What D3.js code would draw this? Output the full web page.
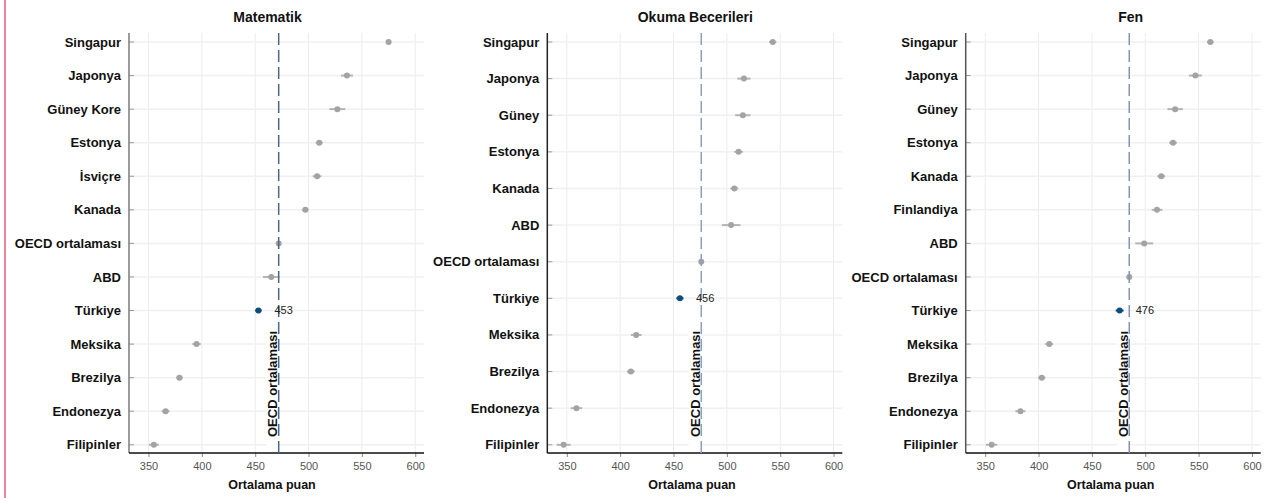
<!DOCTYPE html>
<html>
<head>
<meta charset="utf-8">
<script src="https://cdn.jsdelivr.net/npm/d3@7"></script>
<style>
  html, body { margin: 0; padding: 0; background: #fff; }
  svg { display: block; font-family: "Liberation Sans", Arial, sans-serif; }
</style>
</head>
<body>
<svg id="chart" width="1266" height="498"></svg>
<script>
// PISA 2022 mean scores with 95% confidence half-widths, per subject
const mathCategories = ["Singapur", "Japonya", "Güney Kore", "Estonya", "İsviçre", "Kanada",
  "OECD ortalaması", "ABD", "Türkiye", "Meksika", "Brezilya", "Endonezya", "Filipinler"];
const mathValues = [575, 536, 527, 510, 508, 497, 472, 465, 453, 395, 379, 366, 355];
const mathErrors = [2.5, 5.6, 7.5, 3.3, 4.0, 3.0, 0.5, 7.8, 3.0, 4.0, 3.0, 3.7, 4.7];

const readingCategories = ["Singapur", "Japonya", "Güney", "Estonya", "Kanada", "ABD",
  "OECD ortalaması", "Türkiye", "Meksika", "Brezilya", "Endonezya", "Filipinler"];
const readingValues = [543, 516, 515, 511, 507, 504, 476, 456, 415, 410, 359, 347];
const readingErrors = [3.4, 6.2, 7.2, 4.0, 3.7, 8.7, 0.5, 3.4, 5.0, 3.7, 5.3, 6.5];

const scienceCategories = ["Singapur", "Japonya", "Güney", "Estonya", "Kanada", "Finlandiya",
  "ABD", "OECD ortalaması", "Türkiye", "Meksika", "Brezilya", "Endonezya", "Filipinler"];
const scienceValues = [561, 547, 528, 526, 515, 511, 499, 485, 476, 410, 403, 383, 356];
const scienceErrors = [3.0, 6.0, 7.2, 3.7, 3.7, 5.0, 8.4, 0.5, 3.7, 3.7, 3.4, 4.7, 5.3];

const xTicks = [350, 400, 450, 500, 550, 600];
const xDomain = [331.7, 608.2];
const averageLabel = "OECD ortalaması";
const highlight = "Türkiye";
const xAxisTitle = "Ortalama puan";

const panels = [
  { title: "Matematik", categories: mathCategories, values: mathValues, errors: mathErrors,
    left: 129, titleX: 267.5, axisTitleX: 272, dashColor: "#4a6688", yAxisColor: "#7a7a7a" },
  { title: "Okuma Becerileri", categories: readingCategories, values: readingValues, errors: readingErrors,
    left: 547.3, titleX: 695.3, axisTitleX: 692, dashColor: "#8ca1bb", yAxisColor: "#222" },
  { title: "Fen", categories: scienceCategories, values: scienceValues, errors: scienceErrors,
    left: 965.7, titleX: 1130.7, axisTitleX: 1110.7, dashColor: "#8592b2", yAxisColor: "#555" }
];

const plotWidth = 295;
const plotTop = 33, plotBottom = 453;
const rowFirst = 42, rowLast = 444.8;

const svg = d3.select("#chart");

// left accent rule
svg.append("line")
  .attr("x1", 5).attr("x2", 5).attr("y1", 0).attr("y2", 498)
  .attr("stroke", "#e8879a").attr("stroke-width", 2);

panels.forEach(p => {
  const g = svg.append("g");
  const x = d3.scaleLinear().domain(xDomain).range([p.left, p.left + plotWidth]);
  const y = d3.scalePoint().domain(p.categories).range([rowFirst, rowLast]);
  const rows = p.categories.map((c, i) => ({ name: c, value: p.values[i], err: p.errors[i] }));
  const avg = rows.find(r => r.name === averageLabel).value;

  // vertical grid
  g.append("g").selectAll("line").data(xTicks).join("line")
    .attr("x1", d => x(d)).attr("x2", d => x(d))
    .attr("y1", plotTop).attr("y2", plotBottom)
    .attr("stroke", "#ececec").attr("stroke-width", 1);

  // horizontal grid
  g.append("g").selectAll("line").data(p.categories).join("line")
    .attr("x1", p.left).attr("x2", p.left + plotWidth)
    .attr("y1", d => y(d)).attr("y2", d => y(d))
    .attr("stroke", "#f0f0f0").attr("stroke-width", 1.5);

  // y ticks
  g.append("g").selectAll("line").data(p.categories).join("line")
    .attr("x1", p.left).attr("x2", p.left + 5)
    .attr("y1", d => y(d)).attr("y2", d => y(d))
    .attr("stroke", "#9a9a9a").attr("stroke-width", 1);

  // y labels
  g.append("g").selectAll("text").data(p.categories).join("text")
    .attr("x", p.left - 8).attr("y", d => y(d))
    .attr("dy", "0.35em")
    .attr("text-anchor", "end")
    .attr("font-size", 13).attr("font-weight", "bold").attr("fill", "#111")
    .text(d => d);

  // y axis line
  g.append("line")
    .attr("x1", p.left).attr("x2", p.left).attr("y1", plotTop).attr("y2", plotBottom)
    .attr("stroke", p.yAxisColor).attr("stroke-width", 1.5);

  // x axis
  const xAxis = d3.axisBottom(x).tickValues(xTicks).tickSize(4).tickPadding(5).tickFormat(d3.format("d"));
  const ax = g.append("g").attr("transform", `translate(0,${plotBottom})`).call(xAxis);
  ax.select(".domain").remove();
  ax.selectAll(".tick line").attr("stroke", "#8a8a8a");
  ax.selectAll(".tick text").attr("font-size", 11).attr("fill", "#555")
    .attr("font-family", '"Liberation Sans", Arial, sans-serif');
  g.append("line")
    .attr("x1", p.left).attr("x2", p.left + plotWidth)
    .attr("y1", plotBottom).attr("y2", plotBottom)
    .attr("stroke", "#111").attr("stroke-width", 1.5);

  // error bars
  g.append("g").selectAll("line").data(rows).join("line")
    .attr("x1", d => x(d.value - d.err)).attr("x2", d => x(d.value + d.err))
    .attr("y1", d => y(d.name)).attr("y2", d => y(d.name))
    .attr("stroke", d => d.name === highlight ? "#0e4c7a" : "#b4b4b4")
    .attr("stroke-width", 2);

  // points
  g.append("g").selectAll("circle").data(rows).join("circle")
    .attr("cx", d => x(d.value)).attr("cy", d => y(d.name))
    .attr("r", 3)
    .attr("fill", d => d.name === highlight ? "#0e4c7a" : "#a3a3a3");

  // average label box and text
  const ax0 = x(avg);
  g.append("rect")
    .attr("x", ax0 - 12.5).attr("y", 327).attr("width", 11.5).attr("height", 119)
    .attr("fill", "#fff");
  g.append("text")
    .attr("transform", `translate(${ax0 - 1.5},437) rotate(-90)`)
    .attr("font-size", 13).attr("font-weight", "bold").attr("fill", "#111")
    .text(averageLabel);

  // average dashed line
  g.append("line")
    .attr("x1", ax0).attr("x2", ax0).attr("y1", plotTop).attr("y2", plotBottom)
    .attr("stroke", p.dashColor).attr("stroke-width", 1.5)
    .attr("stroke-dasharray", "12,5");

  // highlighted value label
  const h = rows.find(r => r.name === highlight);
  g.append("text")
    .attr("x", x(h.value) + 16).attr("y", y(h.name))
    .attr("dy", "0.35em")
    .attr("font-size", 11).attr("fill", "#222")
    .text(h.value);

  // titles
  g.append("text")
    .attr("x", p.titleX).attr("y", 22)
    .attr("text-anchor", "middle")
    .attr("font-size", 14).attr("font-weight", "bold").attr("fill", "#111")
    .text(p.title);
  g.append("text")
    .attr("x", p.axisTitleX).attr("y", 489)
    .attr("text-anchor", "middle")
    .attr("font-size", 12.5).attr("font-weight", "bold").attr("fill", "#111")
    .text(xAxisTitle);
});
</script>
</body>
</html>
